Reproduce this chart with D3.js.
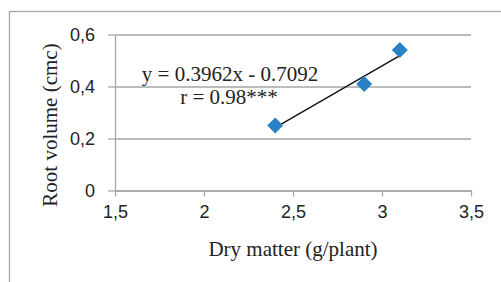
<!DOCTYPE html>
<html><head><meta charset="utf-8">
<script src="https://cdn.jsdelivr.net/npm/d3@7"></script>
<style>html,body{margin:0;padding:0;background:#fff;overflow:hidden}</style>
</head><body>
<script>
const dryMatter = [2.4, 2.9, 3.1];
const rootVolume = [0.25, 0.41, 0.54];
const xTicks = [1.5, 2, 2.5, 3, 3.5];
const yTicks = [0, 0.2, 0.4, 0.6];
const slope = 0.3962, intercept = -0.7092;
const eqLabel = "y = 0.3962x - 0.7092";
const rLabel = "r = 0.98***";
const xTitle = "Dry matter (g/plant)";
const yTitle = "Root volume (cmc)";

const W = 501, H = 282;
const svg = d3.select("body").append("svg").attr("width", W).attr("height", H);
svg.append("rect").attr("x", 9.5).attr("y", 11.5).attr("width", 520).attr("height", 300)
  .attr("fill", "#fff").attr("stroke", "#a6a6a6").attr("stroke-width", 1.3);

const x = d3.scaleLinear().domain([1.5, 3.5]).range([115, 471]);
const y = d3.scaleLinear().domain([0, 0.6]).range([190.5, 34.5]);
const fmt = d => String(d).replace(".", ",");
const tickFont = "'Liberation Sans', Arial, sans-serif";
const serif = "'Liberation Serif', 'Times New Roman', serif";

const yAx = svg.append("g").attr("transform", `translate(${x(1.5)},0)`)
  .call(d3.axisLeft(y).tickValues(yTicks).tickFormat(fmt).tickSize(7).tickSizeOuter(0).tickPadding(13));
yAx.selectAll(".tick line").clone().attr("x2", x(3.5) - x(1.5)).attr("x1", 0);
yAx.selectAll("line").attr("stroke", "#a6a6a6").attr("stroke-width", 1.3);
yAx.select(".domain").attr("stroke", "#a6a6a6").attr("stroke-width", 1.3);
yAx.selectAll("text").attr("font-family", tickFont).attr("font-size", 18).attr("fill", "#222").attr("dy", "0.32em");

const xAx = svg.append("g").attr("transform", `translate(0,${y(0)})`)
  .call(d3.axisBottom(x).tickValues(xTicks).tickFormat(fmt).tickSize(6).tickSizeOuter(0).tickPadding(9));
xAx.selectAll("line").attr("stroke", "#a6a6a6").attr("stroke-width", 1.3);
xAx.select(".domain").attr("stroke", "#a6a6a6").attr("stroke-width", 1.3);
xAx.selectAll("text").attr("font-family", tickFont).attr("font-size", 18).attr("fill", "#222");

const x0 = d3.min(dryMatter), x1 = d3.max(dryMatter);
svg.append("line").attr("x1", x(x0)).attr("y1", y(slope * x0 + intercept))
  .attr("x2", x(x1)).attr("y2", y(slope * x1 + intercept))
  .attr("stroke", "#111").attr("stroke-width", 1.4);

svg.selectAll("path.pt").data(dryMatter.map((d, i) => [d, rootVolume[i]])).join("path")
  .attr("class", "pt")
  .attr("d", d3.symbol().type(d3.symbolSquare).size(128)())
  .attr("transform", d => `translate(${x(d[0])},${y(d[1])}) rotate(45)`)
  .attr("fill", "#2a82c6");

svg.append("text").attr("x", 230).attr("y", 81).attr("text-anchor", "middle")
  .attr("font-family", serif).attr("font-size", 21).attr("fill", "#222").text(eqLabel);
svg.append("text").attr("x", 229).attr("y", 104).attr("text-anchor", "middle")
  .attr("font-family", serif).attr("font-size", 21).attr("fill", "#222").text(rLabel);
svg.append("text").attr("x", 293).attr("y", 256).attr("text-anchor", "middle")
  .attr("font-family", serif).attr("font-size", 21).attr("fill", "#222").text(xTitle);
svg.append("text").attr("transform", "translate(57,125) rotate(-90)").attr("text-anchor", "middle")
  .attr("font-family", serif).attr("font-size", 21).attr("fill", "#222").text(yTitle);
</script>
</body></html>
